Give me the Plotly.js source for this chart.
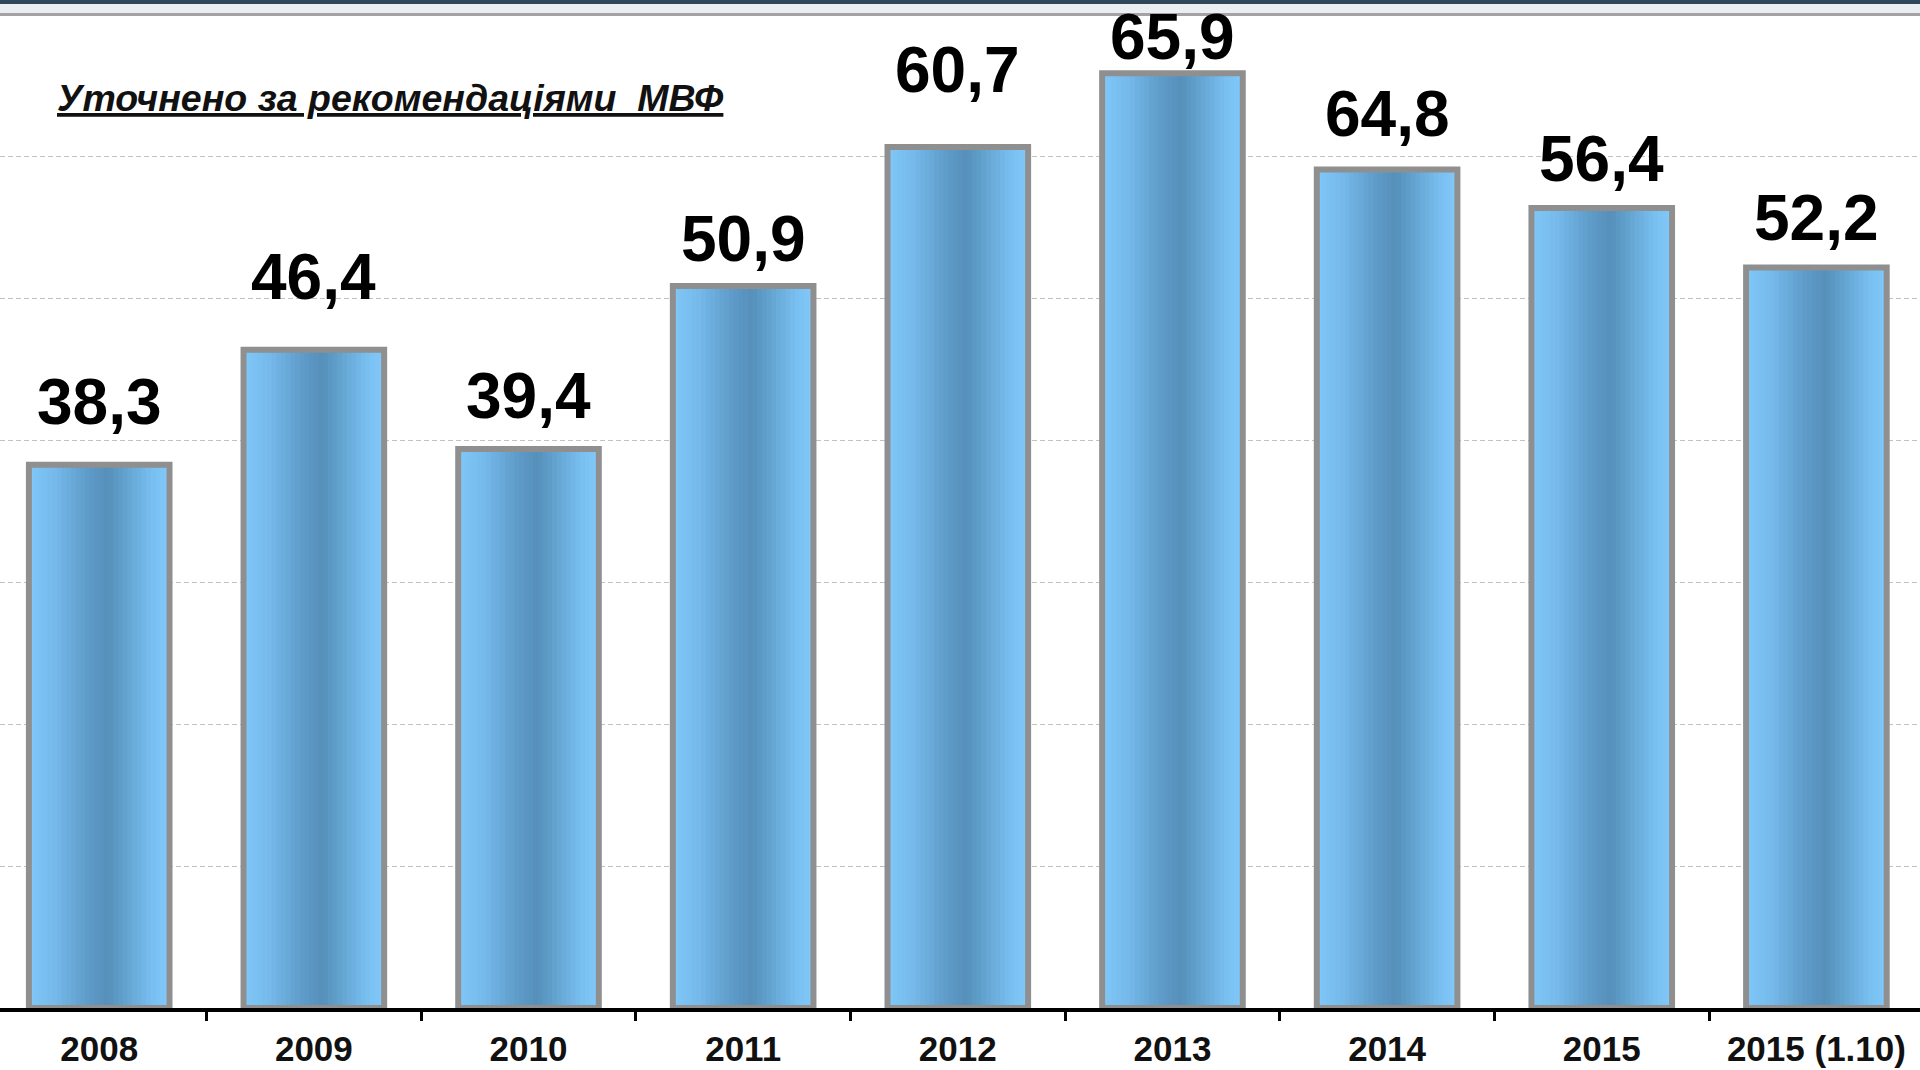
<!DOCTYPE html>
<html>
<head>
<meta charset="utf-8">
<script src="https://cdn.plot.ly/plotly-3.0.1.min.js"></script>
<style>
html,body{margin:0;padding:0;background:#ffffff;}
#chart{width:1920px;height:1070px;}
</style>
</head>
<body>
<div id="chart"></div>
<script>
// ---- data ----
const categories = ['2008', '2009', '2010', '2011', '2012', '2013', '2014', '2015', '2015 (1.10)'];
const barHeights = [38.3, 46.4, 39.4, 50.9, 60.7, 65.9, 59.1, 56.4, 52.2];
const valueLabels = ['38,3', '46,4', '39,4', '50,9', '60,7', '65,9', '64,8', '56,4', '52,2'];
const noteText = 'Уточнено за рекомендаціями\u00a0 МВФ';

// ---- presentation ----
const labelLevels = [41.1, 49.9, 41.5, 52.6, 64.5, 66.8, 61.4, 58.2, 54.1];
const BAR_W = 0.655;
const N_STRIPES = 30;
const gradStops = [
  [0.00, [128, 200, 249]],
  [0.18, [117, 186, 235]],
  [0.40, [96, 158, 203]],
  [0.56, [86, 143, 186]],
  [0.72, [102, 167, 213]],
  [0.88, [121, 192, 241]],
  [1.00, [129, 201, 250]]
];
function gradColor(t) {
  for (let k = 0; k < gradStops.length - 1; k++) {
    const a = gradStops[k], b = gradStops[k + 1];
    if (t >= a[0] && t <= b[0]) {
      const f = (t - a[0]) / (b[0] - a[0]);
      const c = a[1].map((v, j) => Math.round(v + (b[1][j] - v) * f));
      return 'rgb(' + c.join(',') + ')';
    }
  }
  return 'rgb(' + gradStops[gradStops.length - 1][1].join(',') + ')';
}

const FONT = 'Liberation Sans, Arial, Helvetica, sans-serif';
const traces = [];
const step = BAR_W / N_STRIPES;
for (let i = 0; i < N_STRIPES; i++) {
  traces.push({
    type: 'bar',
    x: categories,
    y: barHeights,
    width: step + 0.004,
    offset: -BAR_W / 2 + i * step,
    marker: { color: gradColor((i + 0.5) / N_STRIPES), line: { width: 0 } },
    hoverinfo: 'skip',
    showlegend: false
  });
}
traces.push({
  type: 'bar',
  x: categories,
  y: barHeights,
  width: BAR_W,
  offset: -BAR_W / 2,
  marker: { color: 'rgba(0,0,0,0)', line: { color: '#8f8f8f', width: 6 } },
  hoverinfo: 'skip',
  showlegend: false
});

const annotations = valueLabels.map((t, i) => ({
  x: i,
  y: labelLevels[i],
  xref: 'x',
  yref: 'y',
  text: t,
  showarrow: false,
  xanchor: 'center',
  yanchor: 'bottom',
  yshift: -15,
  font: { family: FONT, size: 64, weight: 700, color: '#000000' }
}));

const plotH = 1070 - 15 - 62;
annotations.push({
  xref: 'paper',
  yref: 'paper',
  x: 55 / 1920,
  y: 1 - (121.5 - 15) / plotH,
  xanchor: 'left',
  yanchor: 'bottom',
  showarrow: false,
  text: '<b><i><u>' + noteText + '</u></i></b>',
  font: { family: FONT, size: 37.5, color: '#111111' }
});

const layout = {
  width: 1920,
  height: 1070,
  margin: { l: 0, r: 0, t: 15, b: 62, pad: 0 },
  paper_bgcolor: '#ffffff',
  plot_bgcolor: '#ffffff',
  barmode: 'overlay',
  showlegend: false,
  xaxis: {
    type: 'category',
    range: [-99.2 / 214.65, (1920 - 99.2) / 214.65],
    tickson: 'boundaries',
    ticks: 'outside',
    ticklen: 9,
    tickwidth: 3,
    tickcolor: '#000000',
    ticklabelstandoff: 7,
    showline: true,
    linecolor: '#000000',
    linewidth: 3.5,
    showgrid: false,
    zeroline: false,
    tickfont: { family: FONT, size: 35, weight: 700, color: '#111111' },
    fixedrange: true
  },
  yaxis: {
    range: [0, 70],
    tick0: 0,
    dtick: 10,
    showgrid: true,
    gridcolor: '#c2c2c2',
    griddash: '5px,3px',
    gridwidth: 1,
    showticklabels: false,
    ticks: '',
    zeroline: false,
    showline: false,
    fixedrange: true
  },
  annotations: annotations,
  shapes: [
    { type: 'rect', xref: 'paper', yref: 'paper', x0: 0, x1: 1, y0: 1 + 11 / plotH, y1: 1 + 15 / plotH,
      fillcolor: '#2f4858', line: { width: 0 }, layer: 'above' },
    { type: 'rect', xref: 'paper', yref: 'paper', x0: 0, x1: 1, y0: 1 + 1.5 / plotH, y1: 1 + 11 / plotH,
      fillcolor: '#eaeef1', line: { width: 0 }, layer: 'above' },
    { type: 'line', xref: 'paper', yref: 'paper', x0: 0, x1: 1, y0: 1 + 0.5 / plotH, y1: 1 + 0.5 / plotH,
      line: { color: '#a3a3a3', width: 3 }, layer: 'above' }
  ]
};

Plotly.newPlot('chart', traces, layout, { displayModeBar: false, staticPlot: true });
</script>
</body>
</html>
